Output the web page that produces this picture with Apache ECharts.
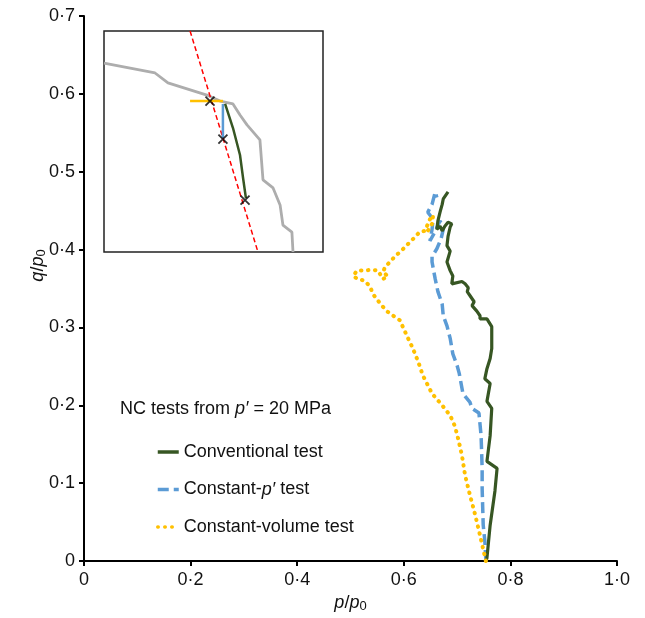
<!DOCTYPE html>
<html>
<head>
<meta charset="utf-8">
<script src="https://cdn.jsdelivr.net/npm/echarts@6/dist/echarts.min.js"></script>
<style>html,body{margin:0;padding:0;background:#fff}#c{width:645px;height:618px}</style>
</head>
<body>
<div id="c"></div>
<script>
// Main chart data: [p/p0, q/p0]
const conventional = [[0.754,0],[0.756,0.004],[0.762,0.046],[0.771,0.090],[0.775,0.119],[0.756,0.128],[0.762,0.161],[0.765,0.196],[0.756,0.205],[0.762,0.228],[0.752,0.234],[0.756,0.247],[0.762,0.260],[0.765,0.273],[0.765,0.301],[0.756,0.311],[0.743,0.311],[0.743,0.315],[0.737,0.321],[0.728,0.328],[0.732,0.333],[0.724,0.341],[0.719,0.346],[0.721,0.351],[0.715,0.356],[0.709,0.359],[0.690,0.356],[0.692,0.366],[0.687,0.373],[0.681,0.384],[0.687,0.398],[0.681,0.405],[0.683,0.417],[0.687,0.429],[0.690,0.433],[0.683,0.435],[0.677,0.430],[0.672,0.424],[0.668,0.430],[0.662,0.426],[0.664,0.437],[0.668,0.448],[0.672,0.458],[0.674,0.465],[0.683,0.474]];
const constantP = [[0.754,0],[0.752,0.026],[0.749,0.046],[0.747,0.093],[0.747,0.119],[0.745,0.161],[0.741,0.190],[0.728,0.196],[0.724,0.204],[0.711,0.215],[0.704,0.241],[0.700,0.251],[0.692,0.266],[0.687,0.286],[0.681,0.302],[0.674,0.315],[0.672,0.330],[0.664,0.346],[0.659,0.362],[0.653,0.384],[0.653,0.391],[0.662,0.401],[0.670,0.414],[0.674,0.426],[0.668,0.437],[0.657,0.421],[0.649,0.411],[0.653,0.426],[0.655,0.439],[0.645,0.448],[0.653,0.458],[0.659,0.474],[0.662,0.467]];
const constantV = [[0.754,0],[0.743,0.033],[0.734,0.059],[0.724,0.085],[0.715,0.110],[0.709,0.136],[0.702,0.157],[0.696,0.173],[0.687,0.187],[0.672,0.200],[0.653,0.215],[0.636,0.238],[0.627,0.256],[0.617,0.273],[0.608,0.286],[0.598,0.301],[0.593,0.309],[0.580,0.315],[0.568,0.321],[0.559,0.328],[0.552,0.334],[0.542,0.343],[0.537,0.352],[0.527,0.360],[0.514,0.362],[0.505,0.366],[0.512,0.373],[0.523,0.373],[0.540,0.374],[0.552,0.373],[0.555,0.369],[0.561,0.362],[0.570,0.366],[0.561,0.371],[0.565,0.378],[0.574,0.384],[0.583,0.391],[0.593,0.397],[0.602,0.403],[0.612,0.410],[0.621,0.416],[0.630,0.423],[0.640,0.424],[0.644,0.431],[0.649,0.439],[0.655,0.444],[0.653,0.433],[0.645,0.424]];

// Inset data (normalised inset coordinates)
const insetGrey = [[0,0.855],[0.233,0.810],[0.292,0.765],[0.470,0.710],[0.530,0.683],[0.589,0.670],[0.621,0.620],[0.653,0.575],[0.712,0.507],[0.726,0.326],[0.772,0.290],[0.804,0.213],[0.817,0.122],[0.858,0.090],[0.863,0]];
const insetRed = [[0.393,1.0],[0.703,0]];
const insetYellow = [[0.393,0.683],[0.543,0.683]];
const insetBlue = [[0.543,0.670],[0.543,0.516]];
const insetGreen = [[0.553,0.670],[0.589,0.561],[0.621,0.439],[0.635,0.335],[0.648,0.244]];
const insetMarks = [[0.484,0.683],[0.543,0.511],[0.644,0.235]];

const xTicks = [0, 0.2, 0.4, 0.6, 0.8, 1.0];
const yTicks = [0, 0.1, 0.2, 0.3, 0.4, 0.5, 0.6, 0.7];
const legendNames = ['Conventional test', 'Constant-p′ test', 'Constant-volume test'];

const FONT = 'Liberation Sans, Arial, sans-serif';
const FS = 18;
const fmt = v => v === 0 ? '0' : v.toFixed(1).replace('.', '·');
const rich = {
  a: {fontSize: FS, color: '#111', fontFamily: FONT},
  i: {fontSize: FS, color: '#111', fontFamily: FONT, fontStyle: 'italic'},
  s: {fontSize: 13, color: '#111', fontFamily: FONT, verticalAlign: 'bottom', padding: [7,0,0,0]}
};

const chart = echarts.init(document.getElementById('c'), null, {renderer: 'canvas'});
chart.setOption({
  animation: false,
  backgroundColor: '#fff',
  textStyle: {fontFamily: FONT},
  title: {
    left: 120, top: 400, padding: 0,
    text: '{a|NC tests from }{i|p′}{a| = 20 MPa}',
    textStyle: {fontWeight: 'normal', rich: rich}
  },
  legend: {
    data: legendNames,
    orient: 'vertical',
    left: 156, top: 443, padding: 0,
    itemWidth: 21, itemHeight: 14, itemGap: 19.5,
    itemStyle: {color: 'rgba(0,0,0,0)', borderWidth: 0},
    lineStyle: {width: 3.5},
    formatter: n => n === 'Constant-p′ test' ? '{a|Constant-}{i|p′}{a| test}' : '{a|' + n + '}',
    textStyle: {rich: rich}
  },
  grid: [
    {left: 84, top: 16, right: 28, bottom: 55, containLabel: false},
    {left: 104, top: 31, width: 219, height: 221, show: true, borderColor: '#222', borderWidth: 1.5, backgroundColor: '#fff', z: 1}
  ],
  xAxis: [
    {
      type: 'value', gridIndex: 0, min: 0, max: 1, interval: 0.2,
      axisLine: {show: true, onZero: false, lineStyle: {color: '#000', width: 2}},
      axisTick: {show: true, inside: false, length: 5, lineStyle: {color: '#000', width: 2}},
      splitLine: {show: false},
      axisLabel: {formatter: fmt, fontSize: FS, color: '#111', margin: 10, fontFamily: FONT},
      name: '{i|p}{a|/}{i|p}{s|0}', nameLocation: 'middle', nameGap: 32, nameMoveOverlap: false,
      nameTextStyle: {rich: rich}
    },
    {type: 'value', gridIndex: 1, min: 0, max: 1, show: false, splitLine: {show: false}}
  ],
  yAxis: [
    {
      type: 'value', gridIndex: 0, min: 0, max: 0.7, interval: 0.1,
      axisLine: {show: true, onZero: false, lineStyle: {color: '#000', width: 2}},
      axisTick: {show: true, inside: false, length: 5, lineStyle: {color: '#000', width: 2}},
      splitLine: {show: false},
      axisLabel: {formatter: fmt, fontSize: FS, color: '#111', margin: 9, fontFamily: FONT},
      name: '{i|q}{a|/}{i|p}{s|0}', nameLocation: 'middle', nameGap: 36, nameRotate: 90, nameMoveOverlap: false,
      nameTextStyle: {rich: rich, padding: [0, 0, 0, 46]}
    },
    {type: 'value', gridIndex: 1, min: 0, max: 1, show: false, splitLine: {show: false}}
  ],
  series: [
    {name: 'Conventional test', type: 'line', xAxisIndex: 0, yAxisIndex: 0, data: conventional, symbol: 'none', z: 5,
     lineStyle: {color: '#375623', width: 3.2}, itemStyle: {color: '#375623'}},
    {name: 'Constant-p′ test', type: 'line', xAxisIndex: 0, yAxisIndex: 0, data: constantP, symbol: 'none', z: 4,
     lineStyle: {color: '#5B9BD5', width: 3.5, type: [11, 5]}, itemStyle: {color: '#5B9BD5'}},
    {name: 'Constant-volume test', type: 'line', xAxisIndex: 0, yAxisIndex: 0, data: constantV, symbol: 'none', z: 6,
     lineStyle: {color: '#FFC000', width: 4, type: [0.5, 6.5], cap: 'round'}, itemStyle: {color: '#FFC000'}},
    {name: 'insetGrey', type: 'line', xAxisIndex: 1, yAxisIndex: 1, data: insetGrey, symbol: 'none', z: 3,
     lineStyle: {color: '#ADADAD', width: 2.8}},
    {name: 'insetRed', type: 'line', xAxisIndex: 1, yAxisIndex: 1, data: insetRed, symbol: 'none', z: 4,
     lineStyle: {color: '#FF0000', width: 1.5, type: [5, 3]}},
    {name: 'insetYellow', type: 'line', xAxisIndex: 1, yAxisIndex: 1, data: insetYellow, symbol: 'none', z: 5,
     lineStyle: {color: '#FFC000', width: 2.5}},
    {name: 'insetBlue', type: 'line', xAxisIndex: 1, yAxisIndex: 1, data: insetBlue, symbol: 'none', z: 5,
     lineStyle: {color: '#5B9BD5', width: 2.5}},
    {name: 'insetGreen', type: 'line', xAxisIndex: 1, yAxisIndex: 1, data: insetGreen, symbol: 'none', z: 5,
     lineStyle: {color: '#375623', width: 2.5}},
    {name: 'insetMarks', type: 'scatter', xAxisIndex: 1, yAxisIndex: 1, data: insetMarks, z: 7,
     symbol: 'path://M0,0L10,10M10,0L0,10', symbolSize: 9,
     itemStyle: {color: 'rgba(0,0,0,0)', borderColor: '#000', borderWidth: 1.8}}
  ]
});
</script>
</body>
</html>
